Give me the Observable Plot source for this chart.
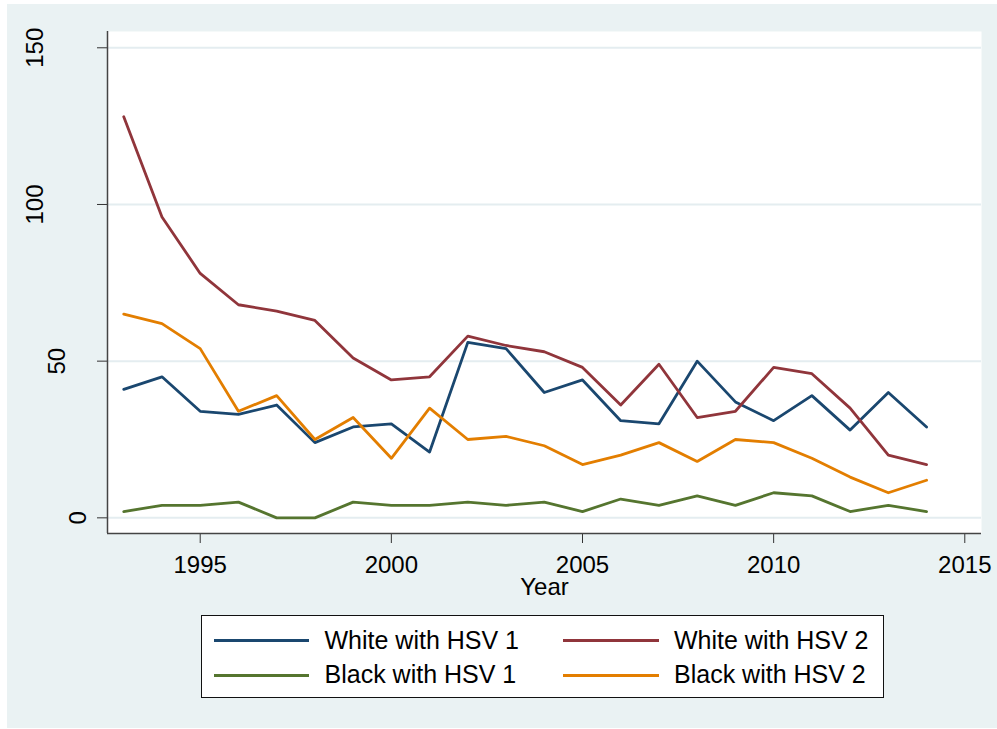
<!DOCTYPE html>
<html>
<head>
<meta charset="utf-8">
<script src="https://cdn.jsdelivr.net/npm/d3@7"></script>
<script src="https://cdn.jsdelivr.net/npm/@observablehq/plot@0.6"></script>
<style>
  html, body { margin: 0; padding: 0; background: #ffffff; }
  body { width: 997px; height: 729px; position: relative; overflow: hidden;
         font-family: "Liberation Sans", Arial, sans-serif; }
  #bg { position: absolute; left: 7px; top: 4px; width: 990px; height: 724px; background: #eaf2f3; }
  #chart { position: absolute; left: 7px; top: 4px; }
  #legend { position: absolute; left: 201px; top: 615px; width: 681px; height: 81px;
            background: #ffffff; border: 1.5px solid #111; }
  .sw { position: absolute; height: 3px; }
  .lt { position: absolute; font-size: 25px; color: #000; line-height: 1; white-space: nowrap; }
</style>
</head>
<body>
<div id="bg"></div>
<div id="chart"></div>
<div id="legend"></div>
<script>
// ---- data ----
const years = [1993,1994,1995,1996,1997,1998,1999,2000,2001,2002,2003,2004,2005,2006,2007,2008,2009,2010,2011,2012,2013,2014];
const whiteHSV1 = [41,45,34,33,36,24,29,30,21,56,54,40,44,31,30,50,37,31,39,28,40,29];
const whiteHSV2 = [128,96,78,68,66,63,51,44,45,58,55,53,48,36,49,32,34,48,46,35,20,17];
const blackHSV1 = [2,4,4,5,0,0,5,4,4,5,4,5,2,6,4,7,4,8,7,2,4,2];
const blackHSV2 = [65,62,54,34,39,25,32,19,35,25,26,23,17,20,24,18,25,24,19,13,8,12];
const seriesNames = ["White with HSV 1", "White with HSV 2", "Black with HSV 1", "Black with HSV 2"];
const seriesColors = ["#1a476f", "#90353b", "#55752f", "#e37e00"];
const xTicks = [1995, 2000, 2005, 2010, 2015];
const yTicks = [0, 50, 100, 150];
const xLabel = "Year";

const seriesValues = [whiteHSV1, whiteHSV2, blackHSV1, blackHSV2];
const rows = [];
seriesNames.forEach((name, i) => {
  years.forEach((yr, j) => rows.push({series: name, year: yr, value: seriesValues[i][j]}));
});

const xDomain = [1992.575, 2015.437];
const yDomain = [-5.0, 155.2];

const yLabelMarks = yTicks.map(t => {
  const len = String(t).length;
  return Plot.text([t], {
    y: d => d, text: d => String(d), frameAnchor: "left", rotate: -90,
    textAnchor: "middle", lineAnchor: "middle", fontSize: 24, fill: "#000",
    dx: -29 - 21.5 * (len - 1)
  });
});

const chart = Plot.plot({
  width: 990,
  height: 606,
  marginLeft: 100,
  marginTop: 27,
  marginRight: 16,
  marginBottom: 77,
  style: {background: "transparent", fontFamily: "Liberation Sans, Arial, sans-serif", color: "#000"},
  x: {domain: xDomain, axis: null},
  y: {domain: yDomain, axis: null},
  color: {domain: seriesNames, range: seriesColors},
  marks: [
    Plot.frame({fill: "white", stroke: "none"}),
    Plot.gridY(yTicks, {stroke: "#e4edf0", strokeOpacity: 1, strokeWidth: 2}),
    Plot.lineY(rows, {x: "year", y: "value", stroke: "series", z: "series", strokeWidth: 2.8}),
    Plot.axisX({ticks: xTicks, tickSize: 10, tickPadding: 12, fontSize: 24,
                tickFormat: d => String(d), stroke: "#333", fill: "#000", label: null}),
    Plot.axisY({ticks: yTicks, tickSize: 10, tickFormat: () => "", stroke: "#333", label: null}),
    ...yLabelMarks,
    Plot.ruleX([xDomain[0]], {stroke: "#444", strokeWidth: 1.5}),
    Plot.ruleY([yDomain[0]], {stroke: "#444", strokeWidth: 1.5}),
    Plot.text([xLabel], {frameAnchor: "bottom", text: d => d, dy: 53.5, lineAnchor: "middle",
                         fontSize: 24, fill: "#000"})
  ]
});
document.getElementById("chart").appendChild(chart);

// ---- legend (HTML) ----
const legend = document.getElementById("legend");
const lx = 201, ly = 615;
const cols = [{sw: [213, 307.5], tx: 323.5}, {sw: [562.3, 657.7], tx: 673}];
const rowY = [639.5, 674];
seriesNames.forEach((name, i) => {
  const c = cols[i % 2], r = rowY[Math.floor(i / 2)];
  const sw = document.createElement("div");
  sw.className = "sw";
  sw.style.left = (c.sw[0] - lx) + "px";
  sw.style.width = (c.sw[1] - c.sw[0]) + "px";
  sw.style.top = (r - ly - 1.5) + "px";
  sw.style.background = seriesColors[i];
  legend.appendChild(sw);
  const t = document.createElement("div");
  t.className = "lt";
  t.textContent = name;
  t.style.left = (c.tx - lx) + "px";
  t.style.top = (r - ly - 13) + "px";
  legend.appendChild(t);
});
</script>
</body>
</html>
